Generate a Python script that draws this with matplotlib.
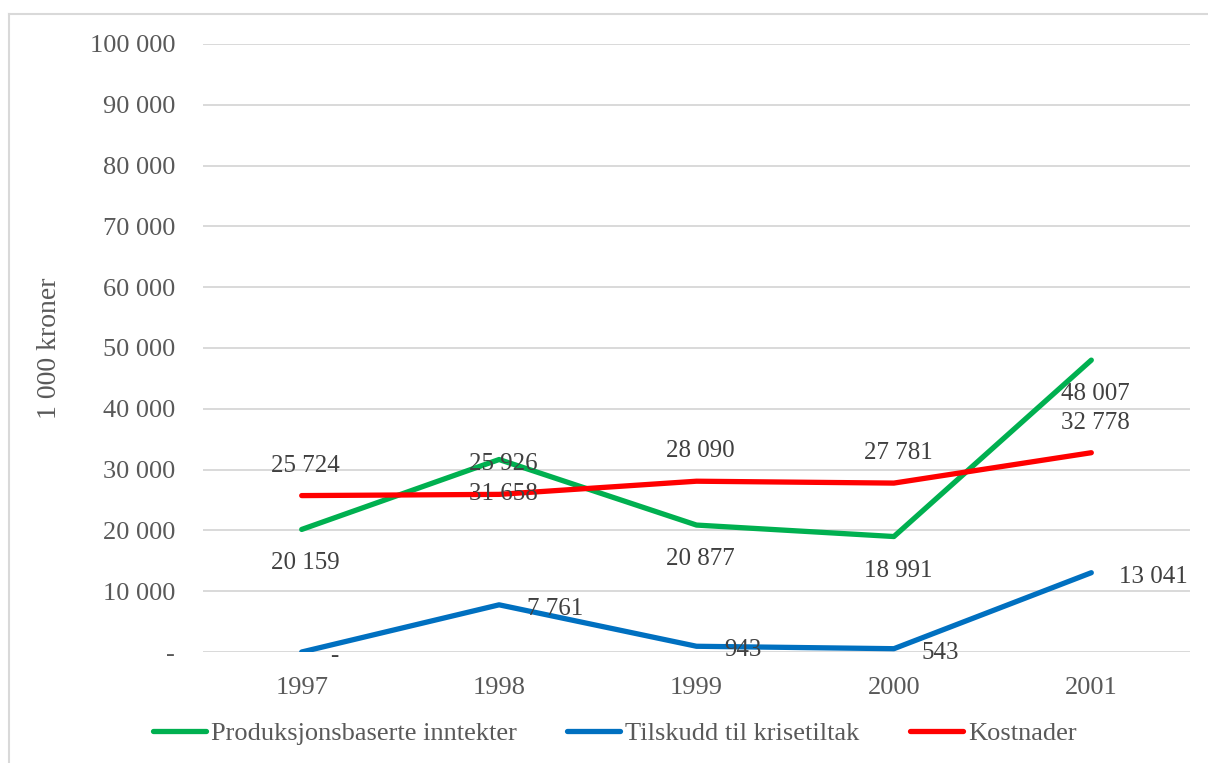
import matplotlib
matplotlib.use("Agg")
import matplotlib.pyplot as plt
from matplotlib.lines import Line2D

years = ["1997", "1998", "1999", "2000", "2001"]
produksjon = [20159, 31658, 20877, 18991, 48007]
tilskudd = [0, 7761, 943, 543, 13041]
kostnader = [25724, 25926, 28090, 27781, 32778]
yticks = [0, 10000, 20000, 30000, 40000, 50000, 60000, 70000, 80000, 90000, 100000]

GREEN = "#00B050"
BLUE = "#0070C0"
RED = "#FF0000"
FONT = "Liberation Serif"


def fmt(v):
    if v == 0:
        return "-"
    return "{:,}".format(v).replace(",", " ")


def main():
    plt.rcParams["font.family"] = FONT
    fig = plt.figure(figsize=(12.08, 7.63), dpi=100)
    ax = fig.add_axes([203 / 1208, 1 - 652 / 763, 987 / 1208, 608 / 763])

    x = list(range(len(years)))
    lw = 3.8
    ax.plot(x, produksjon, color=GREEN, lw=lw, solid_capstyle="round", zorder=3)
    ax.plot(x, tilskudd, color=BLUE, lw=lw, solid_capstyle="round", zorder=3)
    ax.plot(x, kostnader, color=RED, lw=lw, solid_capstyle="round", zorder=3)

    lab_kw = dict(textcoords="offset pixels", fontsize=18, color="#404040", zorder=4)
    for i, v in enumerate(produksjon):
        ax.annotate(fmt(v), (i, v), xytext=(4, -34), ha="center", va="center", **lab_kw)
    for i, v in enumerate(kostnader):
        ax.annotate(fmt(v), (i, v), xytext=(4, 30), ha="center", va="center", **lab_kw)
    for i, v in enumerate(tilskudd):
        ax.annotate(fmt(v), (i, v), xytext=(28, -4), ha="left", va="center", **lab_kw)

    ax.set_xlim(-0.5, len(years) - 0.5)
    ax.set_ylim(0, 100000)
    ax.set_yticks(yticks)
    ax.set_yticklabels([fmt(v) for v in yticks])
    ax.set_xticks(x)
    ax.set_xticklabels(years)
    ax.tick_params(axis="both", length=0, labelsize=19, labelcolor="#595959")
    ax.tick_params(axis="y", pad=20)
    ax.tick_params(axis="x", pad=18)
    ax.grid(axis="y", color="#D9D9D9", lw=1.4)
    ax.set_axisbelow(True)
    for s in ax.spines.values():
        s.set_visible(False)

    ax.set_ylabel("1 000 kroner", fontsize=20, color="#595959")
    ax.yaxis.set_label_coords((62 - 203) / 987, 0.5)

    handles = [Line2D([], [], color=c, lw=lw, solid_capstyle="round") for c in (GREEN, BLUE, RED)]
    fig.legend(handles, ["Produksjonsbaserte inntekter", "Tilskudd til krisetiltak", "Kostnader"],
               loc="center", bbox_to_anchor=(0.509, 1 - 733 / 763), ncol=3, frameon=False,
               fontsize=19, labelcolor="#595959", handlelength=2.0, handletextpad=0.2,
               columnspacing=1.9)

    # ytre ramme (bare topp og venstre synlig)
    fig.add_artist(Line2D([9 / 1208, 1], [1 - 14 / 763] * 2, color="#D9D9D9", lw=1.5,
                          transform=fig.transFigure))
    fig.add_artist(Line2D([9 / 1208] * 2, [0, 1 - 14 / 763], color="#D9D9D9", lw=1.5,
                          transform=fig.transFigure))

    fig.savefig("out.png", dpi=100)


if __name__ == "__main__":
    main()
